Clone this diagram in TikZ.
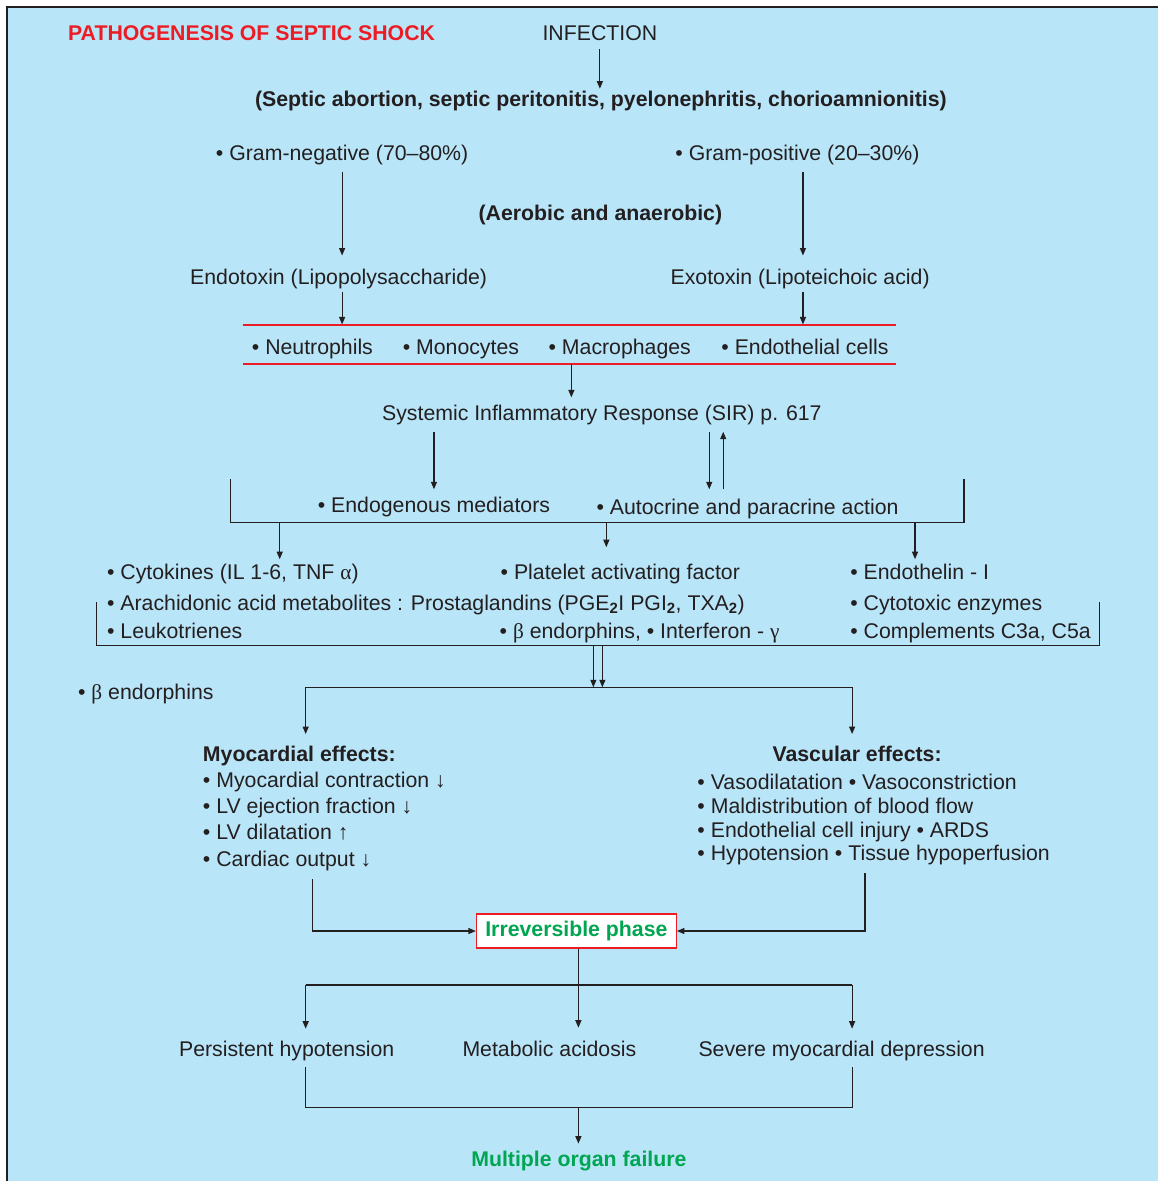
\documentclass[tikz,border=0pt]{standalone}
\usepackage{fontspec}
\setmainfont{Liberation Sans}
\newfontfamily\grk{Liberation Serif}
\usetikzlibrary{arrows.meta}
\definecolor{bgblue}{HTML}{B9E5F8}
\definecolor{ink}{HTML}{231F20}
\definecolor{tred}{HTML}{ED1C24}
\definecolor{tgreen}{HTML}{00A651}
\newcommand\fs{\fontsize{21.3}{25}\selectfont}
\begin{document}
\begin{tikzpicture}[x=1pt,y=-1pt,
 txt/.style={font=\fs, inner sep=0pt, text height=15pt, text depth=4pt, text=ink, anchor=base west},
 ctxt/.style={txt, anchor=base},
 hd/.style={font=\fs\bfseries},
 ln/.style={draw=ink, line width=1.2pt},
 arr/.style={ln, -{Triangle[length=7.5pt,width=6pt]}},
 redrule/.style={draw=tred, line width=2pt},
]
\fill[white] (0,0) rectangle (1159,1182);
\fill[bgblue] (7,7) rectangle (1159,1182);
\draw[ink, line width=2.5pt] (7,1182) -- (7,7) -- (1159,7);
\useasboundingbox (0,0) rectangle (1159,1182);

% texts
\node[txt, hd, text=tred] (title) at (68,41) {PATHOGENESIS OF SEPTIC SHOCK};
\node[ctxt] (inf) at (600.5,41) {INFECTION};
\node[ctxt, hd] (sites) at (601.5,107) {(Septic abortion, septic peritonitis, pyelonephritis, chorioamnionitis)};
\node[txt] (gneg) at (216,161) {• Gram-negative (70–80\%)};
\node[txt] (gpos) at (676,161) {• Gram-positive (20–30\%)};
\node[ctxt, hd] (aer) at (601,221) {(Aerobic and anaerobic)};
\node[ctxt] (endo) at (339,285) {Endotoxin (Lipopolysaccharide)};
\node[ctxt] (exo) at (801,285) {Exotoxin (Lipoteichoic acid)};

\node[minimum width=654pt, minimum height=38pt, inner sep=0pt] (cells) at (570,345) {};
\draw[redrule] (cells.north west) -- (cells.north east);
\draw[redrule] (cells.south west) -- (cells.south east);
\node[txt] (neut) at (252,355) {• Neutrophils};
\node[txt] (mono) at (403,355) {• Monocytes};
\node[txt] (macro) at (549,355) {• Macrophages};
\node[txt] (endc) at (722,355) {• Endothelial cells};

\node[ctxt] (sir) at (602.5,421) {Systemic Inflammatory Response (SIR) p. 617};
\node[txt] (endog) at (318,513) {• Endogenous mediators};
\node[txt] (auto) at (597,515) {• Autocrine and paracrine action};

\node[txt] (cyt) at (107,580) {• Cytokines (IL 1-6, TNF {\grk α})};
\node[txt] (paf) at (501,580) {• Platelet activating factor};
\node[txt] (eth) at (851,580) {• Endothelin - I};
\node[txt] (arach) at (107,611) {• Arachidonic acid metabolites : Prostaglandins (PGE\textsubscript{\bfseries 2}I PGI\textsubscript{\bfseries 2}, TXA\textsubscript{\bfseries 2})};
\node[txt] (cytox) at (851,611) {• Cytotoxic enzymes};
\node[txt] (leuk) at (107,639) {• Leukotrienes};
\node[txt] (betaI) at (500,639) {• {\grk β} endorphins, • Interferon - {\grk γ}};
\node[txt] (compl) at (851,639) {• Complements C3a, C5a};
\node[txt] (betaL) at (78,700) {• {\grk β} endorphins};

\node[txt, hd] (myoh) at (203,762) {Myocardial effects:};
\node[txt] (m1) at (203,788) {• Myocardial contraction ↓};
\node[txt] (m2) at (203,814) {• LV ejection fraction ↓};
\node[txt] (m3) at (203,840) {• LV dilatation ↑};
\node[txt] (m4) at (203,867) {• Cardiac output ↓};

\node[ctxt, hd] (vash) at (858,762) {Vascular effects:};
\node[txt] (v1) at (698,790) {• Vasodilatation • Vasoconstriction};
\node[txt] (v2) at (698,814) {• Maldistribution of blood flow};
\node[txt] (v3) at (698,838) {• Endothelial cell injury • ARDS};
\node[txt] (v4) at (698,861) {• Hypotension • Tissue hypoperfusion};

\node[draw=tred, line width=1.2pt, fill=white, minimum width=200pt, minimum height=34pt, inner sep=0pt, font=\fs\bfseries, text=tgreen] (irr) at (577,932) {Irreversible phase};

\node[ctxt] (pers) at (287,1058) {Persistent hypotension};
\node[ctxt] (meta) at (550,1058) {Metabolic acidosis};
\node[ctxt] (sev) at (842.5,1058) {Severe myocardial depression};
\node[ctxt, hd, text=tgreen] (mof) at (579.5,1168) {Multiple organ failure};

% connectors
\draw[arr, shorten <=4pt, shorten >=3pt] (inf.south) -- (inf.south |- sites.north);
\draw[arr, shorten <=7pt, shorten >=14pt] (gneg.south) -- (gneg.south |- endo.north);
\coordinate (gp) at ([xshift=5.5pt]gpos.south);
\draw[arr, shorten <=7pt, shorten >=14pt] (gp) -- (gp |- exo.north);
\draw[arr, shorten <=3pt, shorten >=1pt] (endo.south -| gneg.south) -- (gneg.south |- cells.north);
\draw[arr, shorten <=3pt, shorten >=1pt] (exo.south -| gp) -- (gp |- cells.north);
\coordinate (c6) at ([xshift=2pt]cells.south);
\draw[arr, shorten >=8pt] (c6) -- (c6 |- sir.north);
\draw[arr, shorten <=7pt, shorten >=8pt] (sir.south -| endog.north) -- (endog.north);
\coordinate (s8a) at ([xshift=107.5pt]sir.south);
\coordinate (s8b) at ([xshift=121.5pt]sir.south);
\draw[arr, shorten <=7pt, shorten >=10pt] (s8a) -- (s8a |- auto.north);
\draw[arr, shorten <=10pt, shorten >=7pt] (s8b |- auto.north) -- (s8b);

% bracket 1
\coordinate (k1a) at (231,480);
\coordinate (k1b) at (231,523);
\coordinate (k1c) at (965,523);
\coordinate (k1d) at (965,480);
\draw[ln] (k1a) -- (k1b) -- (k1c) -- (k1d);
\coordinate (k1x) at (280,523);
\coordinate (k1y) at (607,523);
\coordinate (k1z) at (916,523);
\draw[arr, shorten >=5pt] (k1x) -- (k1x |- cyt.north);
\draw[arr, shorten >=17pt] (k1y) -- (k1y |- paf.north);
\draw[arr, shorten >=5pt] (k1z) -- (k1z |- eth.north);

% bracket 2
\coordinate (k2a) at (97,603);
\coordinate (k2b) at (97,646);
\coordinate (k2c) at (1101,646);
\coordinate (k2d) at (1101,603);
\draw[ln] (k2a) -- (k2b) -- (k2c) -- (k2d);
\coordinate (d1) at (594,646);
\coordinate (d2) at (603,646);
\coordinate (j3l) at (306,688);
\coordinate (j3r) at (853,688);
\draw[arr] (d1) -- (d1 |- j3l);
\draw[arr] (d2) -- (d2 |- j3l);
\draw[ln] (j3l) -- (j3r);
\draw[arr, shorten >=12pt] (j3l) -- (j3l |- myoh.north);
\draw[arr, shorten >=12pt] (j3r) -- (j3r |- vash.north);

% to irreversible phase
\coordinate (q1) at (313,880);
\coordinate (q2) at (866,874);
\draw[arr] (q1) |- (irr.west);
\draw[arr] (q2) |- (irr.east);

% from irreversible phase
\coordinate (j5l) at (306,986);
\coordinate (j5r) at (853,986);
\draw[ln] (j5l) -- (j5r);
\draw[arr, shorten >=14pt] ([xshift=2pt]irr.south) -- ([xshift=2pt]irr.south |- meta.north);
\draw[arr, shorten >=13pt] (j5l) -- (j5l |- pers.north);
\draw[arr, shorten >=13pt] (j5r) -- (j5r |- sev.north);

% to multiple organ failure
\coordinate (j6l) at (306,1109);
\coordinate (j6r) at (853,1109);
\coordinate (j6m) at (579,1109);
\coordinate (p1) at ([yshift=-6pt]pers.south);
\coordinate (p2) at ([yshift=-6pt]sev.south);
\draw[ln] (p1 -| j6l) -- (j6l) -- (j6r) -- (p2 -| j6r);
\draw[arr, shorten >=8pt] (j6m) -- (j6m |- mof.north);
\end{tikzpicture}
\end{document}
